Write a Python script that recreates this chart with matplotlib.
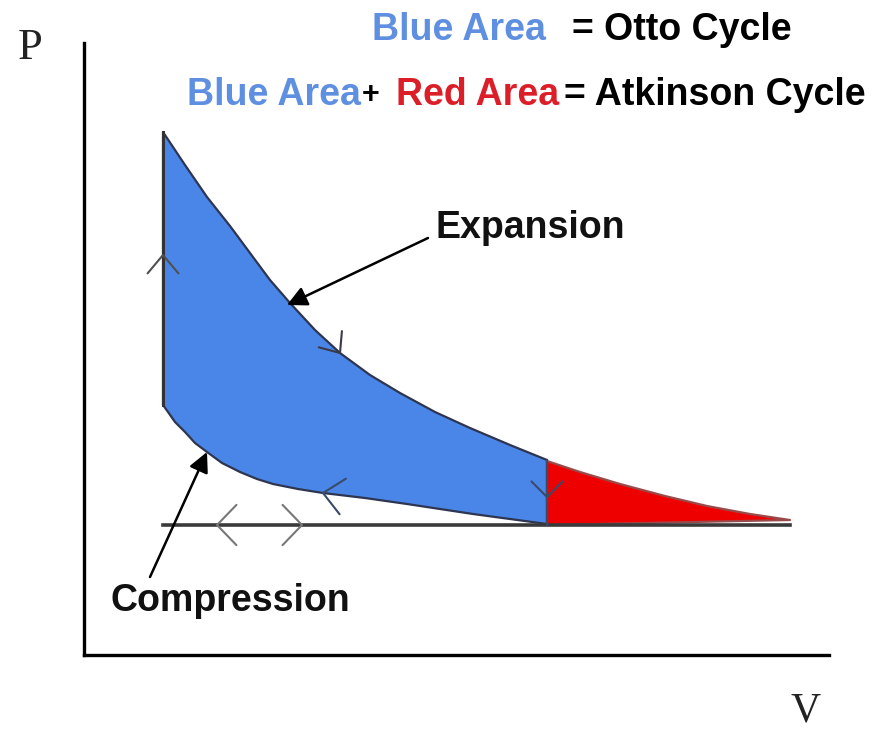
import numpy as np
import matplotlib
matplotlib.use("Agg")
import matplotlib.pyplot as plt
from matplotlib.patches import Polygon

# ---- data (V, P in chart units; origin at the axes corner) ----
exp_v = [79, 101, 123, 146, 166, 186, 206, 231, 256, 286, 316, 351, 386, 426, 463]
exp_p = [523, 490, 458, 429, 402, 375, 352, 325, 302, 280, 262, 243, 227, 210, 195]

red_v = [463, 496, 536, 581, 623, 666, 706]
red_p = [194, 183, 171, 159, 149, 141, 135]

comp_v = [79, 84, 91, 101, 111, 123, 138, 156, 173, 189, 214, 239, 281, 323, 356, 389, 426, 463]
comp_p = [250, 243, 233, 223, 212, 203, 192, 183, 176, 171, 166, 162, 157, 151, 146, 141, 136, 131]

base_p = 130          # exhaust / intake stroke pressure
v_min, v_otto, v_atk = 79, 463, 706

title1 = [("Blue Area", "#5F8FE0", 288, 27, "left"),
          ("= Otto Cycle", "black", 488, 27, "left")]
title2 = [("Blue Area", "#5F8FE0", 103, 27, "left"),
          ("+", "black", 287, 22, "center"),
          ("Red Area", "#DC1E28", 312, 27, "left"),
          ("= Atkinson Cycle", "black", 480, 27, "left")]

BLUE = "#4A86E8"
RED = "#EE0000"
EDGE = "#2E3550"

fig = plt.figure(figsize=(8.78, 7.33), dpi=100)
ax = fig.add_axes([84 / 878, 78 / 733, 745 / 878, 612 / 733])
ax.set_xlim(0, 745)
ax.set_ylim(0, 612)
for s in ["top", "right"]:
    ax.spines[s].set_visible(False)
for s in ["left", "bottom"]:
    ax.spines[s].set_linewidth(2.4)
    ax.spines[s].set_color("black")
ax.set_xticks([])
ax.set_yticks([])

# blue area (Otto cycle)
blue_v = exp_v + [v_otto] + comp_v[::-1]
blue_p = exp_p + [base_p] + comp_p[::-1]
ax.add_patch(Polygon(np.column_stack([blue_v, blue_p]), closed=True,
                     facecolor=BLUE, edgecolor=EDGE, lw=1.6, zorder=2,
                     joinstyle="round"))

# red area (extra Atkinson expansion)
rv = red_v + [v_otto]
rp = red_p + [base_p]
ax.add_patch(Polygon(np.column_stack([rv, rp]), closed=True,
                     facecolor=RED, edgecolor="#9A4A4A", lw=1.6, zorder=2,
                     joinstyle="round"))

# outline lines
ax.plot([v_min, v_min], [comp_p[0], exp_p[0]], color="#333333", lw=2.2, zorder=3)
ax.plot([v_min, v_atk], [base_p, base_p], color="#3a3a3a", lw=2.6, zorder=3)
ax.plot([v_otto, v_otto], [base_p, exp_p[-1]], color="#3a4a6a", lw=1.6, zorder=3)


def chevron(x, y, ang_deg, length=24, spread=38, color="#555555", lw=1.5):
    """open arrow head with tip at (x,y) pointing toward ang_deg"""
    a = np.deg2rad(ang_deg)
    pts = []
    for s in (-spread, spread):
        b = a + np.pi + np.deg2rad(s)
        pts.append((x + length * np.cos(b), y + length * np.sin(b)))
    ax.plot([pts[0][0], x, pts[1][0]], [pts[0][1], y, pts[1][1]],
            color=color, lw=lw, zorder=4, solid_capstyle="round")


chevron(v_min, 400, 90, length=24, spread=40, color="#505050")
chevron(256, 302, -55, length=22, spread=40, color="#3a3a4a")
chevron(239, 162, 170, length=27, spread=42, color="#3a4a6a")
chevron(v_otto, 158, -90, length=22, spread=45, color="#3a4a6a")
chevron(133, base_p, 180, length=28, spread=46, color="#777777")
chevron(218, base_p, 0, length=28, spread=46, color="#777777")

# annotations
tfont = dict(family="Liberation Sans", fontweight="bold")
aprops = dict(arrowstyle="-|>,head_length=1.2,head_width=0.6",
              color="black", lw=1.8, shrinkA=0, shrinkB=0)
ax.annotate("", xy=(203, 350), xytext=(344, 417), arrowprops=aprops,
            zorder=5, annotation_clip=False)
ax.annotate("", xy=(123, 203), xytext=(66, 78), arrowprops=aprops,
            zorder=5, annotation_clip=False)
ax.text(352, 427, "Expansion", ha="left", va="center", color="#111111",
        fontsize=27, clip_on=False, **tfont)
ax.text(27, 54, "Compression", ha="left", va="center", color="#111111",
        fontsize=27, clip_on=False, **tfont)

for txt, col, x, fs, ha in title1:
    ax.text(x, 625, txt, ha=ha, va="center", color=col, fontsize=fs,
            clip_on=False, **tfont)
for txt, col, x, fs, ha in title2:
    ax.text(x, 560, txt, ha=ha, va="center", color=col, fontsize=fs,
            clip_on=False, **tfont)

ax.text(-54, 607, "P", ha="center", va="center", fontsize=32,
        family="Liberation Serif", color="#222222", clip_on=False)
ax.text(722, -56, "V", ha="center", va="center", fontsize=30,
        family="Liberation Serif", color="#222222", clip_on=False)

fig.savefig("out.png", dpi=100, facecolor="white")
